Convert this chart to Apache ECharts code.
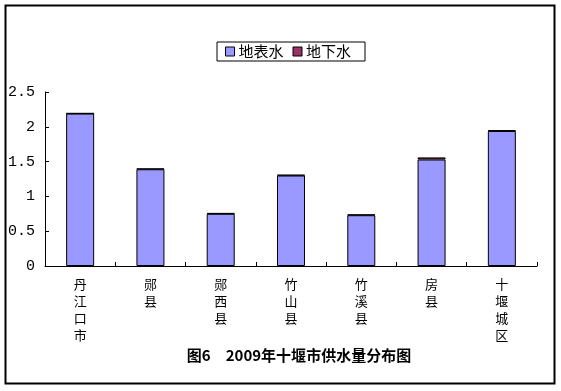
<!DOCTYPE html>
<html><head><meta charset="utf-8">
<script src="https://cdn.jsdelivr.net/npm/echarts@6/dist/echarts.min.js"></script>
<style>html,body{margin:0;padding:0;background:#fff}#c{width:561px;height:391px}</style>
</head><body><div id="c"></div>
<script>
const categories = ['丹江口市','郧县','郧西县','竹山县','竹溪县','房县','十堰城区'];
const surfaceWater = [2.19, 1.39, 0.75, 1.30, 0.73, 1.53, 1.94];
const groundWater = [0.005, 0.01, 0.01, 0.01, 0.01, 0.03, 0.01];
const yTicks = [0, 0.5, 1, 1.5, 2, 2.5];
const seriesNames = ['地表水','地下水'];
const titleText = '图6　2009年十堰市供水量分布图';

const chart = echarts.init(document.getElementById('c'));
const cjk = '"Noto Sans CJK SC", sans-serif';
chart.setOption({
  animation: false,
  backgroundColor: '#fff',
  title: {text: titleText, left: 294, textAlign: 'center', top: 343,
    textStyle: {fontFamily: cjk, fontSize: 15, fontWeight: 'bold', color: '#000'}},
  legend: {left: 217, top: 42, padding: [2, 14, 2, 8],
    borderColor: '#000', borderWidth: 1, itemWidth: 9, itemHeight: 9, itemGap: 9,
    icon: 'rect', itemStyle: {borderColor: '#000', borderWidth: 1},
    textStyle: {fontFamily: cjk, fontSize: 15, color: '#000', padding: [0,0,0,-1]},
    data: seriesNames},
  grid: {left: 45, right: 24, top: 92, bottom: 125},
  xAxis: {type: 'category', data: categories,
    axisLine: {lineStyle: {color: '#000', width: 1}},
    axisTick: {show: true, inside: true, length: 4, lineStyle: {color: '#000'}},
    axisLabel: {interval: 0, margin: 10, fontFamily: cjk, fontSize: 13, color: '#000', lineHeight: 17,
      formatter: v => v.split('').join('\n')}},
  yAxis: {type: 'value', min: 0, max: 2.5, interval: 0.5,
    splitLine: {show: false},
    axisLine: {show: true, lineStyle: {color: '#000', width: 1}},
    axisTick: {show: true, inside: true, length: 4, lineStyle: {color: '#000'}},
    axisLabel: {margin: 10, fontFamily: '"Liberation Mono", monospace', fontSize: 15, color: '#000',
      formatter: v => yTicks.includes(v) ? String(v) : ''}},
  series: [
    {name: seriesNames[0], type: 'bar', stack: 's', data: surfaceWater, barWidth: 28,
      itemStyle: {color: '#9999FF', borderColor: '#000', borderWidth: 1}},
    {name: seriesNames[1], type: 'bar', stack: 's', data: groundWater, barWidth: 28,
      itemStyle: {color: '#993366', borderColor: '#000', borderWidth: 1}}
  ],
  graphic: [{type: 'rect', shape: {x: 5.5, y: 5.5, width: 549, height: 378},
    style: {fill: 'none', stroke: '#000', lineWidth: 2}, z: 100}]
});
</script></body></html>
